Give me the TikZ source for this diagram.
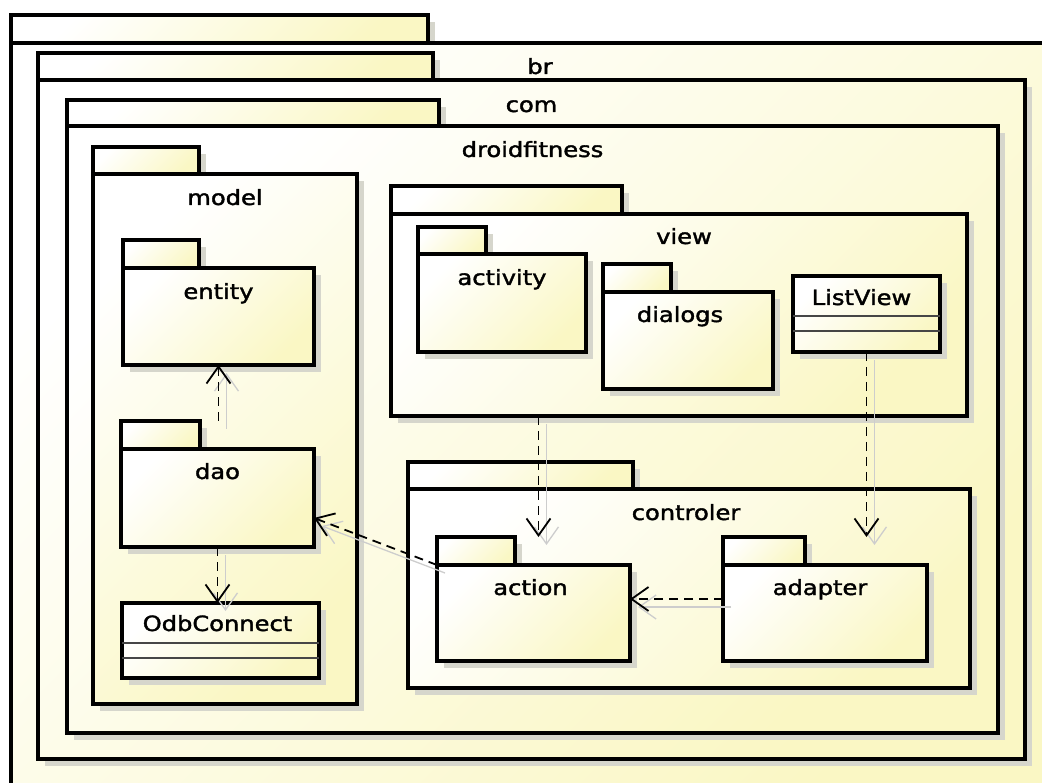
\documentclass[tikz,border=0pt]{standalone}
\usepackage{fontspec}
\setmainfont{DejaVu Sans}
\newfontfamily\lblfont{DejaVu Sans}[FakeBold=1.6]
\usetikzlibrary{calc,shadows,arrows.meta}
\definecolor{pkgY}{RGB}{250,247,196}
\definecolor{shd}{RGB}{214,214,204}
\definecolor{ghostc}{RGB}{205,205,205}
\definecolor{cmpline}{RGB}{70,70,70}
\newcommand{\pkgtxt}[1]{\scalebox{1.15}[1]{#1}}
\begin{document}
\begin{tikzpicture}[x=1pt,y=-1pt,
  pkgfill/.style={top color=white, bottom color=pkgY, shading angle=45},
  boxbase/.style={draw=black, line width=3.6pt, rectangle, inner sep=0pt, outer sep=0pt,
    pkgfill, drop shadow={shadow xshift=7pt, shadow yshift=-7pt, fill=shd, opacity=1}},
  pkgbody/.style={boxbase, anchor=north west},
  pkgtab/.style={boxbase, anchor=south west},
  clsbox/.style={boxbase, anchor=north west},
  pkglabel/.style={inner sep=0pt, anchor=base, text=black, font=\lblfont\fontsize{21}{24}\selectfont},
  cmp/.style={draw=cmpline, line width=1.6pt},
  dep/.style={draw=black, line width=1.8pt, dash pattern=on 9pt off 6pt,
    -{Straight Barb[length=17pt, width=24pt, line width=1.8pt]}},
  ghost/.style={draw=ghostc, line width=1.3pt,
    -{Straight Barb[length=17pt, width=24pt, line width=1.3pt]}}
]
\useasboundingbox (0,0) rectangle (1042,783);
\fill[white] (0,0) rectangle (1042,783);
\begin{scope}
\clip (0,0) rectangle (1042,783);

% br
\node[pkgtab, minimum width=417pt, minimum height=28pt] (brtab) at (11,43) {};
\node[pkgbody, minimum width=1058pt, minimum height=760pt] (br) at (11,43) {};
\node[pkglabel] (brlbl) at ($(br.north)+(0,31)$) {\pkgtxt{br}};

% com
\node[pkgtab, minimum width=395pt, minimum height=27pt] (comtab) at (38,80) {};
\node[pkgbody, minimum width=987pt, minimum height=679pt] (com) at (38,80) {};
\node[pkglabel] (comlbl) at ($(com.north)+(0,32)$) {\pkgtxt{com}};

% droidfitness
\node[pkgtab, minimum width=372pt, minimum height=26pt] (droidtab) at (67,126) {};
\node[pkgbody, minimum width=931pt, minimum height=607pt] (droid) at (67,126) {};
\node[pkglabel] (droidlbl) at ($(droid.north)+(0,31)$) {\pkgtxt{droidfitness}};

% model
\node[pkgtab, minimum width=106pt, minimum height=27pt] (modeltab) at (93,174) {};
\node[pkgbody, minimum width=264pt, minimum height=530pt] (model) at (93,174) {};
\node[pkglabel] (modellbl) at ($(model.north)+(0,31)$) {\pkgtxt{model}};

% entity
\node[pkgtab, minimum width=76pt, minimum height=28pt] (entitytab) at (123,268) {};
\node[pkgbody, minimum width=191pt, minimum height=97pt] (entity) at (123,268) {};
\node[pkglabel] (entitylbl) at ($(entity.north)+(0,31)$) {\pkgtxt{entity}};

% dao
\node[pkgtab, minimum width=79pt, minimum height=28pt] (daotab) at (121,449) {};
\node[pkgbody, minimum width=193pt, minimum height=98pt] (dao) at (121,449) {};
\node[pkglabel] (daolbl) at ($(dao.north)+(0,30)$) {\pkgtxt{dao}};

% OdbConnect
\node[clsbox, minimum width=197pt, minimum height=75pt] (odb) at (122,603) {};
\node[pkglabel] (odblbl) at ($(odb.north)+(-3,28)$) {\pkgtxt{OdbConnect}};
\draw[cmp] ($(odb.north west)+(0,40)$) -- ($(odb.north east)+(0,40)$);
\draw[cmp] ($(odb.north west)+(0,55)$) -- ($(odb.north east)+(0,55)$);

% view
\node[pkgtab, minimum width=231pt, minimum height=28pt] (viewtab) at (391,214) {};
\node[pkgbody, minimum width=576pt, minimum height=202pt] (view) at (391,214) {};
\node[pkglabel] (viewlbl) at ($(view.north)+(5,30)$) {\pkgtxt{view}};

% activity
\node[pkgtab, minimum width=68pt, minimum height=27pt] (activitytab) at (418,254) {};
\node[pkgbody, minimum width=168pt, minimum height=98pt] (activity) at (418,254) {};
\node[pkglabel] (activitylbl) at ($(activity.north)+(0,31)$) {\pkgtxt{activity}};

% dialogs
\node[pkgtab, minimum width=68pt, minimum height=28pt] (dialogstab) at (603,292) {};
\node[pkgbody, minimum width=170pt, minimum height=97pt] (dialogs) at (603,292) {};
\node[pkglabel] (dialogslbl) at ($(dialogs.north)+(-8,30)$) {\pkgtxt{dialogs}};

% ListView
\node[clsbox, minimum width=147pt, minimum height=76pt] (listview) at (793,276) {};
\node[pkglabel] (listviewlbl) at ($(listview.north)+(-5,29)$) {\pkgtxt{ListView}};
\draw[cmp] ($(listview.north west)+(0,40)$) -- ($(listview.north east)+(0,40)$);
\draw[cmp] ($(listview.north west)+(0,55)$) -- ($(listview.north east)+(0,55)$);

% controler
\node[pkgtab, minimum width=225pt, minimum height=27pt] (controlertab) at (408,489) {};
\node[pkgbody, minimum width=562pt, minimum height=199pt] (controler) at (408,489) {};
\node[pkglabel] (controlerlbl) at ($(controler.north)+(-3,31)$) {\pkgtxt{controler}};

% action
\node[pkgtab, minimum width=78pt, minimum height=28pt] (actiontab) at (437,565) {};
\node[pkgbody, minimum width=193pt, minimum height=96pt] (action) at (437,565) {};
\node[pkglabel] (actionlbl) at ($(action.north)+(-3,30)$) {\pkgtxt{action}};

% adapter
\node[pkgtab, minimum width=82pt, minimum height=28pt] (adaptertab) at (723,565) {};
\node[pkgbody, minimum width=204pt, minimum height=96pt] (adapter) at (723,565) {};
\node[pkglabel] (adapterlbl) at ($(adapter.north)+(-5,30)$) {\pkgtxt{adapter}};

% connector anchor points
\coordinate (daotip) at ($(dao.south east)+(0,-29)$);
\coordinate (actiontip) at ($(action.east)+(0,-14)$);
\coordinate (actintop) at ($(action.north)+(5,-28)$);

% connector shadows
\begin{scope}[transform canvas={shift={(8,8)}}]
\draw[ghost] (entity.south |- daotab.north) -- (entity.south);
\draw[ghost] (dao.south) -- (dao.south |- odb.north);
\draw[ghost] (action.north west) -- (daotip);
\draw[ghost] (adapter.west |- actiontip) -- (actiontip);
\draw[ghost] (view.south -| actintop) -- (actintop);
\draw[ghost] (listview.south) -- (listview.south |- adaptertab.north);
\end{scope}

% connectors
\draw[dep] (entity.south |- daotab.north) -- (entity.south);
\draw[dep] (dao.south) -- (dao.south |- odb.north);
\draw[dep] (action.north west) -- (daotip);
\draw[dep] (adapter.west |- actiontip) -- (actiontip);
\draw[dep] (view.south -| actintop) -- (actintop);
\draw[dep] (listview.south) -- (listview.south |- adaptertab.north);
\end{scope}
\end{tikzpicture}
\end{document}
